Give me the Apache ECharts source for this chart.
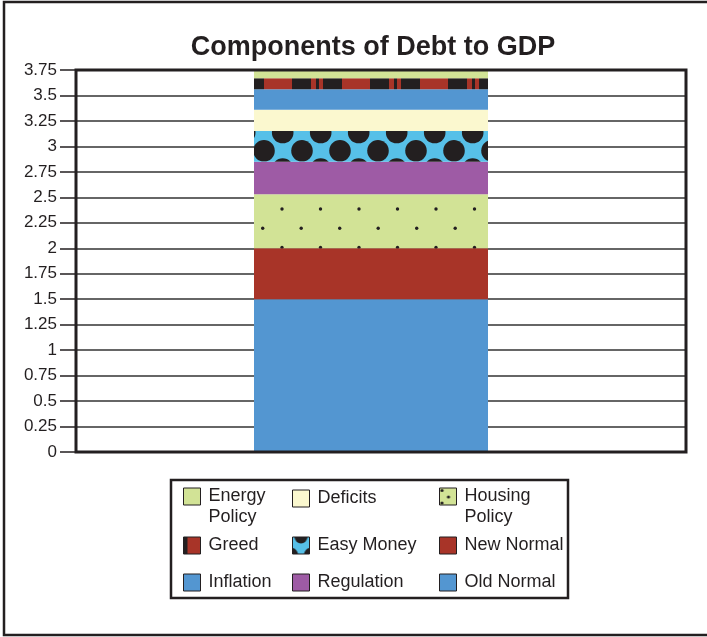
<!DOCTYPE html>
<html><head><meta charset="utf-8">
<script src="https://cdn.jsdelivr.net/npm/echarts@6/dist/echarts.min.js"></script>
<style>html,body{margin:0;padding:0;background:#fff}#c{width:707px;height:637px}</style>
</head><body><div id="c"></div><script>
// ---- data ----
const categories = [''];
const oldNormal     = [1.50];
const newNormal     = [0.50];
const housingPolicy = [0.53];
const regulation    = [0.32];
const easyMoney     = [0.30];
const deficits      = [0.21];
const inflation     = [0.20];
const greed         = [0.11];
const energyPolicy  = [0.08];
const yMin = 0, yMax = 3.75, yStep = 0.25;
const titleText = 'Components of Debt to GDP';

// ---- styles ----
const INK = '#231f20';
const C = {
  blue: '#5396d1', red: '#a83428', green: '#d2e396', purple: '#9e5ba5',
  cyan: '#57c0e8', cream: '#fbf8cf'
};
function makeCanvas(w, h, draw) {
  const c = document.createElement('canvas'); c.width = w; c.height = h;
  draw(c.getContext('2d'), w, h); return c;
}
function wrapDisc(ctx, x, y, r, W, H) {
  for (let i = -1; i <= 1; i++) for (let j = -1; j <= 1; j++) {
    ctx.beginPath(); ctx.arc(x + i * W, y + j * H, r, 0, Math.PI * 2); ctx.fill();
  }
}
const housingTile = makeCanvas(77, 77, (ctx, W, H) => {
  ctx.fillStyle = C.green; ctx.fillRect(0, 0, W, H); ctx.fillStyle = INK;
  [[51, 55], [12.5, 55], [51, 16.5], [12.5, 16.5], [31.7, 74.25], [70.2, 74.25], [31.7, 35.75], [70.2, 35.75]]
    .forEach(p => wrapDisc(ctx, p[0], p[1], 1.7, W, H));
});
const easyTile = makeCanvas(76, 73, (ctx, W, H) => {
  ctx.fillStyle = C.cyan; ctx.fillRect(0, 0, W, H); ctx.fillStyle = INK;
  [[36, 4.8], [74, 4.8], [36, 41.4], [74, 41.4], [54.7, 23.1], [16.7, 23.1], [54.7, 59.5], [16.7, 59.5]]
    .forEach(p => wrapDisc(ctx, p[0], p[1], 10.8, W, H));
});
const greedTile = makeCanvas(78, 8, (ctx, W, H) => {
  ctx.fillStyle = C.red; ctx.fillRect(0, 0, W, H); ctx.fillStyle = INK;
  ctx.fillRect(58, 0, 19, H); ctx.fillRect(4, 0, 3, H); ctx.fillRect(11, 0, 19, H);
});
const housingIcon = makeCanvas(17, 17, (ctx, W, H) => {
  ctx.fillStyle = C.green; ctx.fillRect(0, 0, W, H); ctx.fillStyle = INK;
  [[2.5, 2.5], [9, 9], [2.5, 15]].forEach(p => { ctx.beginPath(); ctx.arc(p[0], p[1], 1.6, 0, 7); ctx.fill(); });
});
const easyIcon = makeCanvas(17, 17, (ctx, W, H) => {
  ctx.fillStyle = C.cyan; ctx.fillRect(0, 0, W, H); ctx.fillStyle = INK;
  [[8.5, 0], [-1, 17.5], [18, 17.5]].forEach(p => { ctx.beginPath(); ctx.arc(p[0], p[1], 6.5, 0, 7); ctx.fill(); });
});
const greedIcon = makeCanvas(17, 17, (ctx, W, H) => {
  ctx.fillStyle = C.red; ctx.fillRect(0, 0, W, H); ctx.fillStyle = INK; ctx.fillRect(0, 0, 4, H);
});
const pat = (img, rep) => ({ image: img, repeat: rep || 'repeat' });

const seriesDefs = [
  ['Old Normal', oldNormal, C.blue],
  ['New Normal', newNormal, C.red],
  ['Housing Policy', housingPolicy, pat(housingTile)],
  ['Regulation', regulation, C.purple],
  ['Easy Money', easyMoney, pat(easyTile)],
  ['Deficits', deficits, C.cream],
  ['Inflation', inflation, C.blue],
  ['Greed', greed, pat(greedTile)],
  ['Energy Policy', energyPolicy, C.green]
];
const iconOverride = {
  'Housing Policy': pat(housingIcon, 'no-repeat'),
  'Easy Money': pat(easyIcon, 'no-repeat'),
  'Greed': pat(greedIcon, 'no-repeat')
};
const legendNames = ['Energy Policy', 'Deficits', 'Housing Policy', 'Greed', 'Easy Money', 'New Normal', 'Inflation', 'Regulation', 'Old Normal'];
const legendCols = [183, 292, 439];
const legendRows = [488, 535, 572];
const FONT = '"Liberation Sans", Arial, Helvetica, sans-serif';

const legends = legendNames.map((name, i) => {
  const twoLine = name.indexOf('Policy') > 0;
  const item = { name: name };
  if (iconOverride[name]) item.itemStyle = { color: iconOverride[name] };
  return {
    data: [item],
    left: legendCols[i % 3],
    top: legendRows[Math.floor(i / 3)] - (twoLine ? 23 : 0),
    padding: 0,
    icon: 'rect',
    itemWidth: 17, itemHeight: 17,
    selectedMode: false,
    itemStyle: { borderColor: INK, borderWidth: 1 },
    formatter: n => twoLine ? ' \n' + n.replace(' ', '\n') : n,
    textStyle: {
      fontFamily: FONT, fontSize: 18, color: INK, lineHeight: 21,
      padding: [0, 0, 0, 3]
    }
  };
});

const chart = echarts.init(document.getElementById('c'), null, { renderer: 'canvas' });
chart.setOption({
  backgroundColor: '#fff',
  animation: false,
  title: {
    text: titleText, left: 368, top: 29, textAlign: 'center',
    textStyle: { fontFamily: FONT, fontSize: 27, fontWeight: 'bold', color: INK }
  },
  legend: legends,
  grid: [
    { left: 76, top: 70, width: 610, height: 382, show: true, z: 5,
      backgroundColor: 'transparent', borderColor: INK, borderWidth: 3 },
    { left: 66, top: 70, width: 610, height: 382 }
  ],
  xAxis: [
    { type: 'category', data: categories, gridIndex: 0,
      axisLine: { show: false }, axisTick: { show: false }, axisLabel: { show: false } },
    { type: 'category', data: categories, gridIndex: 1, show: false }
  ],
  yAxis: [
    { type: 'value', gridIndex: 0, min: yMin, max: yMax, interval: yStep,
      axisLine: { show: false },
      axisTick: { show: true, length: 16, lineStyle: { color: INK, width: 1.5 } },
      axisLabel: { margin: 19, fontFamily: FONT, fontSize: 17, color: INK },
      splitLine: { show: true, lineStyle: { color: '#333', width: 1.5 } } },
    { type: 'value', gridIndex: 1, min: yMin, max: yMax, interval: yStep, show: false,
      splitLine: { show: false } }
  ],
  graphic: [
    { type: 'rect', shape: { x: 4, y: 2, width: 740, height: 633 }, z: 100,
      style: { fill: 'none', stroke: INK, lineWidth: 2.5 } },
    { type: 'rect', shape: { x: 171, y: 480, width: 397, height: 118 }, z: 100,
      style: { fill: 'none', stroke: INK, lineWidth: 2.5 } }
  ],
  series: seriesDefs.map(d => ({
    name: d[0], type: 'bar', stack: 'total', data: d[1],
    xAxisIndex: 1, yAxisIndex: 1, barWidth: 234,
    itemStyle: { color: d[2] }
  }))
});
</script></body></html>
